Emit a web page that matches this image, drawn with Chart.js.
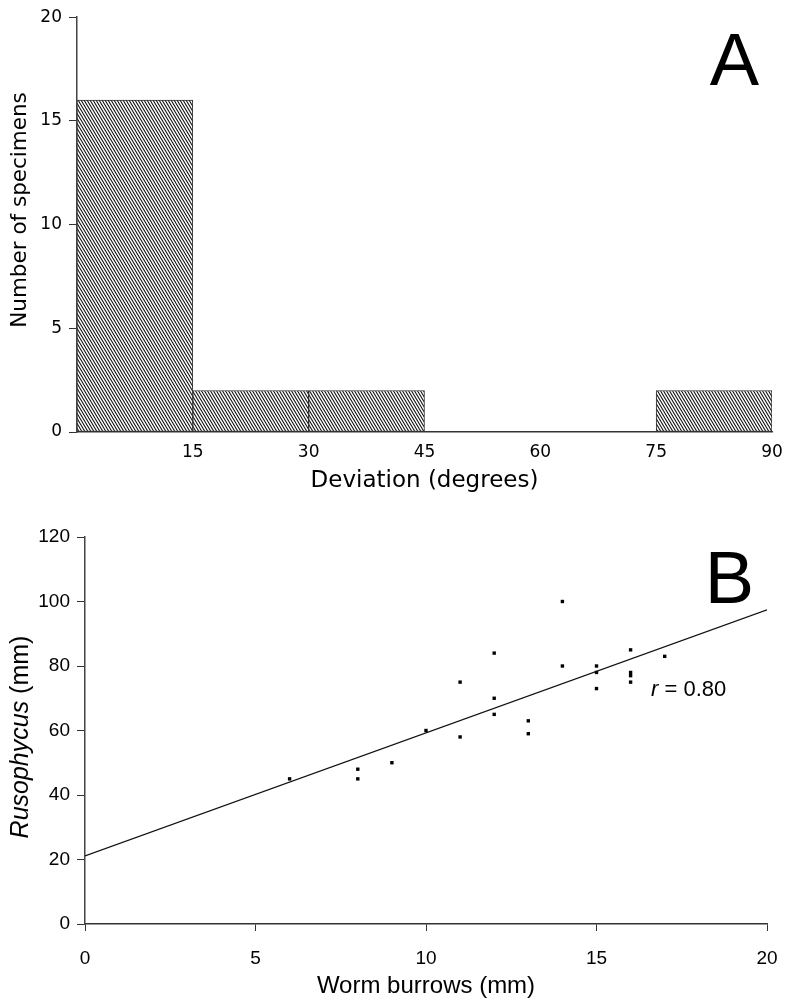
<!DOCTYPE html>
<html>
<head>
<meta charset="utf-8">
<script src="https://cdn.jsdelivr.net/npm/chart.js@4.4.0/dist/chart.umd.min.js"></script>
<style>
	body { margin: 0; background: #fff; }
	#boiteA { position: absolute; left: 0; top: 0; width: 789px; height: 500px; }
	#boiteB { position: absolute; left: 0; top: 500px; width: 789px; height: 502px; }
</style>
</head>
<body>
<div id="boiteA"><canvas id="Graphe1"></canvas></div>
<div id="boiteB"><canvas id="Graphe2"></canvas></div>
<script>
// panel A : deviation histogram
var binStart = [0, 15, 30, 45, 60, 75];
var binWidth = 15;
var counts = [16, 2, 2, 0, 0, 2];
var xTicksA = [15, 30, 45, 60, 75, 90];
var yTicksA = [0, 5, 10, 15, 20];

// panel B : worm burrows vs Rusophycus
var burrows = [6, 8, 8, 9, 10, 11, 11, 12, 12, 12, 13, 13, 14, 14, 15, 15, 15, 16, 16, 16, 16, 17];
var rusophycus = [45, 48, 45, 50, 60, 75, 58, 84, 70, 65, 63, 59, 100, 80, 80, 78, 73, 85, 78, 77, 75, 83];
var fitX = [0, 20];
var fitY = [21.1, 97.4];
var xTicksB = [0, 5, 10, 15, 20];
var yTicksB = [0, 20, 40, 60, 80, 100, 120];

var fontA = '"DejaVu Sans"';
var fontB = '"Liberation Sans"';

function hachures() {
	var c = document.createElement('canvas');
	c.width = 3;
	c.height = 5;
	var g = c.getContext('2d');
	g.fillStyle = '#fff';
	g.fillRect(0, 0, 3, 5);
	g.strokeStyle = '#111';
	g.lineWidth = 1.1;
	g.beginPath();
	[-3, 0, 3].forEach(function (d) {
		g.moveTo(d - 3, -5); g.lineTo(d + 6, 10);
	});
	g.stroke();
	return g.createPattern(c, 'repeat');
}

// big panel letters, y titles and the r label
var textes = {
	id: 'textes',
	afterDraw: function (chart) {
		var o = chart.options.plugins.textes;
		var ctx = chart.ctx, a = chart.chartArea;
		ctx.save();
		ctx.fillStyle = '#000';
		ctx.font = '74px "Liberation Sans"';
		ctx.textAlign = 'right';
		ctx.textBaseline = 'alphabetic';
		ctx.fillText(o.lettre, a.right - 13, a.top + o.dy);

		// y title, parts may be italic
		var total = 0;
		o.yTitre.forEach(function (p) {
			ctx.font = p.f;
			total += ctx.measureText(p.t).width;
		});
		ctx.translate(o.yx, o.yc);
		ctx.rotate(-Math.PI / 2);
		ctx.textAlign = 'left';
		ctx.textBaseline = 'middle';
		var pos = -total / 2;
		o.yTitre.forEach(function (p) {
			ctx.font = p.f;
			ctx.fillText(p.t, pos, 0);
			pos += ctx.measureText(p.t).width;
		});
		ctx.setTransform(1, 0, 0, 1, 0, 0);

		if (o.r) {
			var px = chart.scales.x.getPixelForValue(o.r.x);
			var py = chart.scales.y.getPixelForValue(o.r.y);
			ctx.textAlign = 'left';
			ctx.textBaseline = 'middle';
			ctx.font = 'italic 22px ' + fontB;
			ctx.fillText('r', px, py);
			var wr = ctx.measureText('r').width;
			ctx.font = '22px ' + fontB;
			ctx.fillText(o.r.texte, px + wr, py);
		}
		ctx.restore();
	}
};

var histo = [];
binStart.forEach(function (b, i) {
	histo.push({ x: b + binWidth / 2, y: counts[i] });
});

var chart1 = new Chart(Graphe1, {
	type: 'bar',
	data: {
		datasets: [{
			data: histo,
			backgroundColor: hachures(),
			borderColor: '#333',
			borderWidth: 1,
			borderSkipped: false,
			barPercentage: 1,
			categoryPercentage: 1,
		}]
	},
	plugins: [textes],
	options: {
		responsive: true,
		maintainAspectRatio: false,
		animation: false,
		layout: { padding: { left: 0, top: 15, right: 17, bottom: 0 } },
		plugins: {
			legend: { display: false },
			tooltip: { enabled: false },
			textes: {
				lettre: 'A',
				dy: 68,
				yx: 20,
				yc: 210,
				yTitre: [{ t: 'Number of specimens', f: '21.5px ' + fontA }]
			},
		},
		scales: {
			x: {
				type: 'linear',
				min: 0,
				max: 90,
				offset: false,
				afterBuildTicks: function (s) { s.ticks = xTicksA.map(function (v) { return { value: v }; }); },
				afterFit: function (s) { s.height = 68; s.paddingRight = 0; s.paddingLeft = 0; },
				grid: { drawOnChartArea: false, drawTicks: false },
				border: { color: '#333', width: 1.5 },
				ticks: { color: '#000', padding: 10, maxRotation: 0, font: { family: fontA, size: 17 } },
				title: {
					display: true,
					text: 'Deviation (degrees)',
					color: '#000',
					padding: { bottom: 5 },
					font: { family: fontA, size: 23 }
				}
			},
			y: {
				min: 0,
				max: 20,
				afterBuildTicks: function (s) { s.ticks = yTicksA.map(function (v) { return { value: v }; }); },
				afterFit: function (s) { s.width = 77; },
				grid: { drawOnChartArea: false, drawTicks: true, tickLength: 8, tickColor: '#333' },
				border: { color: '#444', width: 1.5 },
				ticks: { color: '#000', padding: 7, font: { family: fontA, size: 17 } },
				title: { display: false }
			}
		}
	}
});

var points = [];
burrows.forEach(function (b, i) {
	points.push({ x: b, y: rusophycus[i] });
});
var droite = [];
fitX.forEach(function (v, i) {
	droite.push({ x: v, y: fitY[i] });
});

var chart2 = new Chart(Graphe2, {
	type: 'scatter',
	data: {
		datasets: [
			{
				data: points,
				pointStyle: 'rect',
				pointRadius: 2.4,
				backgroundColor: '#000',
				borderWidth: 0,
			},
			{
				type: 'line',
				data: droite,
				borderColor: '#111',
				borderWidth: 1.2,
				pointRadius: 0,
				fill: false,
			}
		]
	},
	plugins: [textes],
	options: {
		responsive: true,
		maintainAspectRatio: false,
		animation: false,
		layout: { padding: { left: 0, top: 37, right: 22, bottom: 0 } },
		plugins: {
			legend: { display: false },
			tooltip: { enabled: false },
			textes: {
				lettre: 'B',
				dy: 66,
				yx: 21,
				yc: 237,
				yTitre: [
					{ t: 'Rusophycus', f: 'italic 25px ' + fontB },
					{ t: ' (mm)', f: '25px ' + fontB }
				],
				r: { x: 16.6, y: 72.6, texte: ' = 0.80' }
			},
		},
		scales: {
			x: {
				type: 'linear',
				min: 0,
				max: 20,
				afterBuildTicks: function (s) { s.ticks = xTicksB.map(function (v) { return { value: v }; }); },
				afterFit: function (s) { s.height = 78; s.paddingRight = 0; s.paddingLeft = 0; },
				grid: { drawOnChartArea: false, drawTicks: true, tickLength: 7, tickColor: '#333' },
				border: { color: '#333', width: 1.5 },
				ticks: { color: '#000', padding: 16, maxRotation: 0, font: { family: fontB, size: 19 } },
				title: {
					display: true,
					text: 'Worm burrows (mm)',
					color: '#000',
					padding: { bottom: 1 },
					font: { family: fontB, size: 24 }
				}
			},
			y: {
				min: 0,
				max: 120,
				afterBuildTicks: function (s) { s.ticks = yTicksB.map(function (v) { return { value: v }; }); },
				afterFit: function (s) { s.width = 85; },
				grid: { drawOnChartArea: false, drawTicks: true, tickLength: 8, tickColor: '#333' },
				border: { color: '#444', width: 1.5 },
				ticks: { color: '#000', padding: 7, font: { family: fontB, size: 19 } },
				title: { display: false }
			}
		}
	}
});
</script>
</body>
</html>
